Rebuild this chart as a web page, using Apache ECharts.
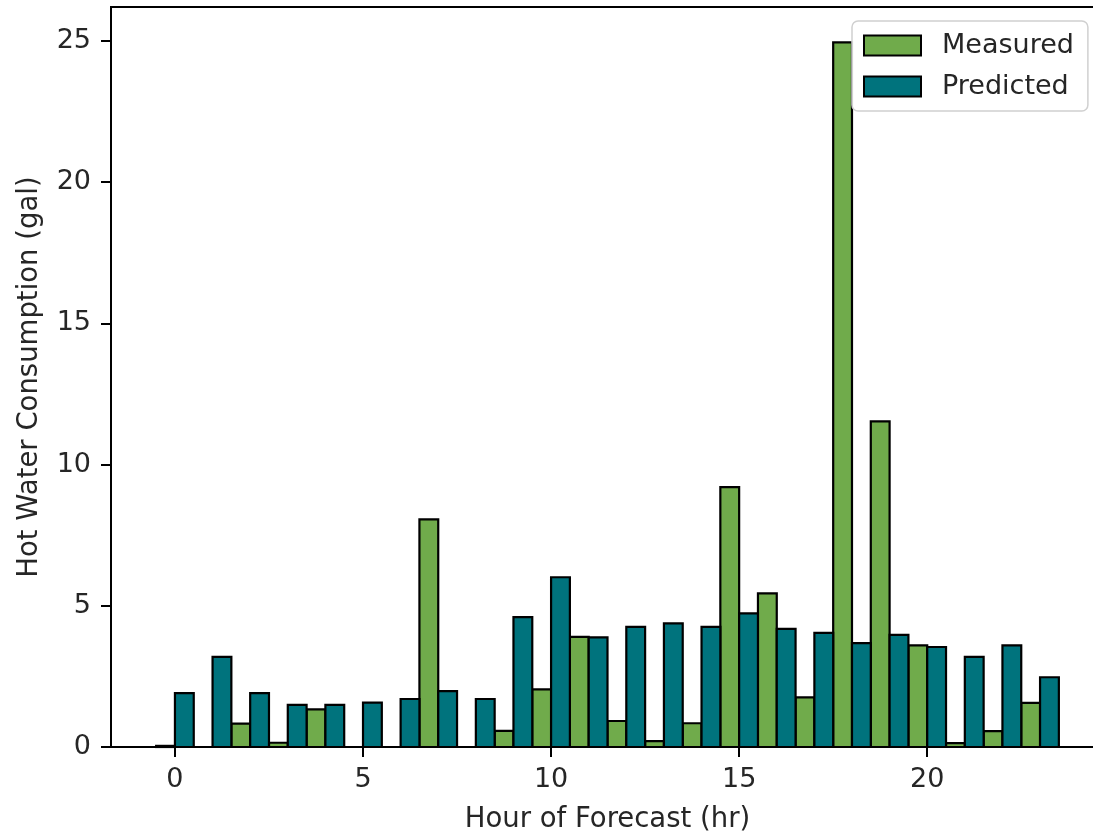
<!DOCTYPE html>
<html>
<head>
<meta charset="utf-8">
<script src="https://cdn.jsdelivr.net/npm/echarts@6/dist/echarts.min.js"></script>
<style>html,body{margin:0;padding:0;background:#fff;}#c{width:1093px;height:833px;}</style>
</head>
<body>
<div id="c"></div>
<script>
const hours = [0,1,2,3,4,5,6,7,8,9,10,11,12,13,14,15,16,17,18,19,20,21,22,23];
const measured = [0.04,0,0.83,0.15,1.33,0,0,8.06,0,0.57,2.04,3.90,0.92,0.21,0.84,9.2,5.44,1.76,24.95,11.53,3.60,0.14,0.56,1.56];
const predicted = [1.91,3.19,1.91,1.49,1.49,1.57,1.70,1.98,1.70,4.60,6.01,3.88,4.25,4.38,4.25,4.73,4.18,4.04,3.68,3.97,3.54,3.19,3.60,2.47];
const xTicks = [0,5,10,15,20];
const yTicks = [0,5,10,15,20,25];
const seriesNames = ['Measured','Predicted'];
const colors = ['#70AB4B','#00737D'];

const FONT = 'DejaVu Sans';
const chart = echarts.init(document.getElementById('c'), null, {renderer:'canvas'});

function barRenderer(offset){
  return function(params, api){
    const x = api.value(0), v = api.value(1);
    const p0 = api.coord([x + offset - 0.25, v]);
    const p1 = api.coord([x + offset + 0.25, 0]);
    return {
      type:'rect',
      shape:{x:p0[0], y:p0[1], width:p1[0]-p0[0], height:p1[1]-p0[1]},
      style:api.style({fill:api.visual('color'), stroke:'#000', lineWidth:2.2})
    };
  };
}

const axisCommon = {
  axisLine:{show:true, onZero:false, lineStyle:{color:'#000', width:2}},
  axisTick:{show:true, length:10, lineStyle:{color:'#000', width:2}},
  splitLine:{show:false},
  axisLabel:{fontFamily:FONT, fontSize:27, color:'#262626'},
  nameTextStyle:{fontFamily:FONT, fontSize:27.5, color:'#262626'}
};

chart.setOption({
  animation:false,
  backgroundColor:'#fff',
  grid:{left:111, top:7, right:-11, bottom:86, show:true, borderColor:'#000', borderWidth:2, outerBoundsMode:'none', containLabel:false},
  xAxis:Object.assign({}, axisCommon, {
    type:'value', min:-1.7, max:24.7,
    name:'Hour of Forecast (hr)', nameLocation:'middle', nameGap:59,
    axisTick:Object.assign({}, axisCommon.axisTick, {customValues:xTicks}),
    axisLabel:Object.assign({}, axisCommon.axisLabel, {customValues:xTicks, margin:19})
  }),
  yAxis:Object.assign({}, axisCommon, {
    type:'value', min:0, max:26.2,
    name:'Hot Water Consumption (gal)', nameLocation:'middle', nameGap:67,
    axisTick:Object.assign({}, axisCommon.axisTick, {customValues:yTicks}),
    axisLabel:Object.assign({}, axisCommon.axisLabel, {customValues:yTicks, margin:20})
  }),
  legend:{
    orient:'vertical', left:852, top:21,
    padding:[11,14,11,11],
    itemWidth:57, itemHeight:20, itemGap:14,
    backgroundColor:'rgba(255,255,255,0.8)', borderColor:'#d0d0d0', borderWidth:1.5, borderRadius:6,
    textStyle:{fontFamily:FONT, fontSize:27, color:'#262626', lineHeight:27, padding:[0,0,0,16]},
    icon:'rect',
    data:seriesNames
  },
  series:[
    {name:seriesNames[0], type:'custom', renderItem:barRenderer(-0.25),
     itemStyle:{color:colors[0], borderColor:'#000', borderWidth:2},
     encode:{x:0, y:1}, data:hours.map((h,i)=>[h, measured[i]])},
    {name:seriesNames[1], type:'custom', renderItem:barRenderer(0.25),
     itemStyle:{color:colors[1], borderColor:'#000', borderWidth:2},
     encode:{x:0, y:1}, data:hours.map((h,i)=>[h, predicted[i]])}
  ]
});
</script>
</body>
</html>
